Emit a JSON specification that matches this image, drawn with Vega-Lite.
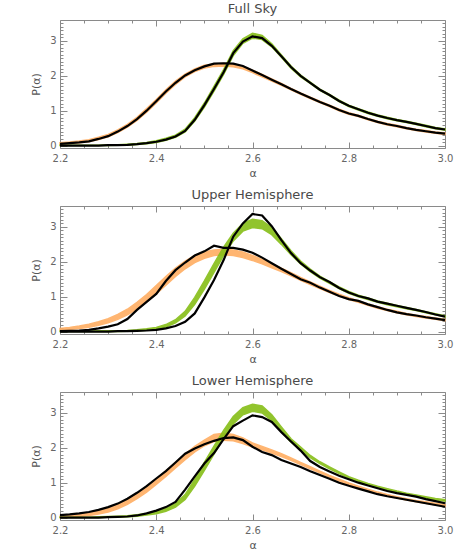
{
"$schema": "https://vega.github.io/schema/vega-lite/v6.json",
"background": "white",
"padding": {"left": 30, "top": 2, "right": 10, "bottom": 2},
"spacing": 9,
"config": {
  "view": {"stroke": "#8a8a8a", "strokeWidth": 1},
  "axis": {"domain": false, "grid": false, "labelFlush": false, "tickColor": "#8a8a8a", "tickWidth": 1, "labelColor": "#666", "labelFont": "DejaVu Sans", "labelFontSize": 10, "titleColor": "#555", "titleFont": "DejaVu Sans", "titleFontSize": 11, "titleFontWeight": "normal"},
  "title": {"font": "DejaVu Sans", "fontSize": 13, "fontWeight": "normal", "color": "#4a4a4a", "offset": 0, "frame": "group", "anchor": "middle"}
},
"datasets": {
"full": [
{"x":2.20,"ob":0.05,"olo":0.04,"ohi":0.08,"gb":0.00,"glo":0.00,"ghi":0.01},
{"x":2.22,"ob":0.07,"olo":0.06,"ohi":0.10,"gb":0.00,"glo":0.00,"ghi":0.01},
{"x":2.24,"ob":0.09,"olo":0.08,"ohi":0.13,"gb":0.00,"glo":0.00,"ghi":0.01},
{"x":2.26,"ob":0.12,"olo":0.11,"ohi":0.17,"gb":0.00,"glo":0.00,"ghi":0.01},
{"x":2.28,"ob":0.19,"olo":0.17,"ohi":0.24,"gb":0.00,"glo":0.00,"ghi":0.01},
{"x":2.30,"ob":0.27,"olo":0.25,"ohi":0.32,"gb":0.01,"glo":0.00,"ghi":0.02},
{"x":2.32,"ob":0.40,"olo":0.37,"ohi":0.45,"gb":0.01,"glo":0.01,"ghi":0.02},
{"x":2.34,"ob":0.56,"olo":0.53,"ohi":0.61,"gb":0.02,"glo":0.01,"ghi":0.04},
{"x":2.36,"ob":0.76,"olo":0.72,"ohi":0.81,"gb":0.04,"glo":0.03,"ghi":0.06},
{"x":2.38,"ob":1.00,"olo":0.96,"ohi":1.06,"gb":0.07,"glo":0.05,"ghi":0.09},
{"x":2.40,"ob":1.27,"olo":1.22,"ohi":1.32,"gb":0.11,"glo":0.09,"ghi":0.14},
{"x":2.42,"ob":1.55,"olo":1.50,"ohi":1.60,"gb":0.17,"glo":0.15,"ghi":0.21},
{"x":2.44,"ob":1.80,"olo":1.75,"ohi":1.85,"gb":0.26,"glo":0.24,"ghi":0.30},
{"x":2.46,"ob":2.01,"olo":1.97,"ohi":2.05,"gb":0.42,"glo":0.39,"ghi":0.47},
{"x":2.48,"ob":2.16,"olo":2.12,"ohi":2.20,"gb":0.74,"glo":0.70,"ghi":0.80},
{"x":2.50,"ob":2.27,"olo":2.22,"ohi":2.30,"gb":1.16,"glo":1.10,"ghi":1.22},
{"x":2.52,"ob":2.35,"olo":2.27,"ohi":2.34,"gb":1.62,"glo":1.56,"ghi":1.70},
{"x":2.54,"ob":2.36,"olo":2.28,"ohi":2.35,"gb":2.10,"glo":2.04,"ghi":2.18},
{"x":2.56,"ob":2.35,"olo":2.26,"ohi":2.33,"gb":2.65,"glo":2.58,"ghi":2.72},
{"x":2.58,"ob":2.28,"olo":2.20,"ohi":2.27,"gb":2.98,"glo":2.93,"ghi":3.06},
{"x":2.60,"ob":2.15,"olo":2.09,"ohi":2.16,"gb":3.13,"glo":3.08,"ghi":3.22},
{"x":2.62,"ob":2.02,"olo":1.97,"ohi":2.04,"gb":3.08,"glo":3.04,"ghi":3.16},
{"x":2.64,"ob":1.89,"olo":1.85,"ohi":1.91,"gb":2.86,"glo":2.83,"ghi":2.92},
{"x":2.66,"ob":1.76,"olo":1.73,"ohi":1.78,"gb":2.56,"glo":2.53,"ghi":2.60},
{"x":2.68,"ob":1.62,"olo":1.60,"ohi":1.64,"gb":2.25,"glo":2.22,"ghi":2.28},
{"x":2.70,"ob":1.49,"olo":1.47,"ohi":1.51,"gb":2.00,"glo":1.97,"ghi":2.02},
{"x":2.72,"ob":1.37,"olo":1.35,"ohi":1.39,"gb":1.80,"glo":1.78,"ghi":1.82},
{"x":2.74,"ob":1.25,"olo":1.23,"ohi":1.27,"gb":1.60,"glo":1.58,"ghi":1.62},
{"x":2.76,"ob":1.14,"olo":1.12,"ohi":1.16,"gb":1.45,"glo":1.43,"ghi":1.47},
{"x":2.78,"ob":1.02,"olo":1.00,"ohi":1.04,"gb":1.28,"glo":1.26,"ghi":1.30},
{"x":2.80,"ob":0.92,"olo":0.90,"ohi":0.94,"gb":1.14,"glo":1.12,"ghi":1.16},
{"x":2.82,"ob":0.85,"olo":0.83,"ohi":0.87,"gb":1.04,"glo":1.02,"ghi":1.06},
{"x":2.84,"ob":0.76,"olo":0.74,"ohi":0.78,"gb":0.94,"glo":0.92,"ghi":0.96},
{"x":2.86,"ob":0.68,"olo":0.66,"ohi":0.70,"gb":0.86,"glo":0.84,"ghi":0.88},
{"x":2.88,"ob":0.61,"olo":0.59,"ohi":0.63,"gb":0.79,"glo":0.77,"ghi":0.81},
{"x":2.90,"ob":0.56,"olo":0.54,"ohi":0.58,"gb":0.73,"glo":0.71,"ghi":0.75},
{"x":2.92,"ob":0.50,"olo":0.48,"ohi":0.52,"gb":0.68,"glo":0.66,"ghi":0.70},
{"x":2.94,"ob":0.45,"olo":0.43,"ohi":0.47,"gb":0.62,"glo":0.60,"ghi":0.64},
{"x":2.96,"ob":0.41,"olo":0.39,"ohi":0.43,"gb":0.56,"glo":0.54,"ghi":0.58},
{"x":2.98,"ob":0.37,"olo":0.35,"ohi":0.39,"gb":0.50,"glo":0.48,"ghi":0.52},
{"x":3.00,"ob":0.34,"olo":0.32,"ohi":0.36,"gb":0.46,"glo":0.44,"ghi":0.48}
],
"upper": [
{"x":2.20,"ob":0.01,"olo":0.04,"ohi":0.09,"gb":0.00,"glo":0.00,"ghi":0.01},
{"x":2.22,"ob":0.02,"olo":0.06,"ohi":0.12,"gb":0.00,"glo":0.00,"ghi":0.01},
{"x":2.24,"ob":0.03,"olo":0.09,"ohi":0.16,"gb":0.00,"glo":0.00,"ghi":0.01},
{"x":2.26,"ob":0.05,"olo":0.12,"ohi":0.21,"gb":0.00,"glo":0.00,"ghi":0.01},
{"x":2.28,"ob":0.09,"olo":0.18,"ohi":0.28,"gb":0.00,"glo":0.00,"ghi":0.02},
{"x":2.30,"ob":0.14,"olo":0.25,"ohi":0.37,"gb":0.00,"glo":0.00,"ghi":0.02},
{"x":2.32,"ob":0.21,"olo":0.35,"ohi":0.49,"gb":0.01,"glo":0.00,"ghi":0.02},
{"x":2.34,"ob":0.36,"olo":0.48,"ohi":0.64,"gb":0.01,"glo":0.01,"ghi":0.03},
{"x":2.36,"ob":0.62,"olo":0.64,"ohi":0.84,"gb":0.02,"glo":0.02,"ghi":0.05},
{"x":2.38,"ob":0.85,"olo":0.85,"ohi":1.06,"gb":0.03,"glo":0.04,"ghi":0.08},
{"x":2.40,"ob":1.08,"olo":1.08,"ohi":1.32,"gb":0.05,"glo":0.07,"ghi":0.12},
{"x":2.42,"ob":1.45,"olo":1.33,"ohi":1.58,"gb":0.09,"glo":0.13,"ghi":0.20},
{"x":2.44,"ob":1.76,"olo":1.58,"ohi":1.82,"gb":0.16,"glo":0.25,"ghi":0.34},
{"x":2.46,"ob":1.98,"olo":1.80,"ohi":2.02,"gb":0.28,"glo":0.45,"ghi":0.58},
{"x":2.48,"ob":2.18,"olo":1.98,"ohi":2.18,"gb":0.52,"glo":0.78,"ghi":0.98},
{"x":2.50,"ob":2.30,"olo":2.10,"ohi":2.28,"gb":0.98,"glo":1.22,"ghi":1.45},
{"x":2.52,"ob":2.46,"olo":2.18,"ohi":2.34,"gb":1.48,"glo":1.70,"ghi":1.95},
{"x":2.54,"ob":2.40,"olo":2.20,"ohi":2.36,"gb":2.05,"glo":2.18,"ghi":2.42},
{"x":2.56,"ob":2.40,"olo":2.18,"ohi":2.34,"gb":2.72,"glo":2.60,"ghi":2.82},
{"x":2.58,"ob":2.35,"olo":2.12,"ohi":2.28,"gb":3.10,"glo":2.88,"ghi":3.10},
{"x":2.60,"ob":2.26,"olo":2.04,"ohi":2.18,"gb":3.37,"glo":2.98,"ghi":3.22},
{"x":2.62,"ob":2.12,"olo":1.94,"ohi":2.07,"gb":3.33,"glo":2.95,"ghi":3.18},
{"x":2.64,"ob":1.96,"olo":1.83,"ohi":1.95,"gb":3.02,"glo":2.78,"ghi":2.98},
{"x":2.66,"ob":1.80,"olo":1.72,"ohi":1.82,"gb":2.62,"glo":2.50,"ghi":2.66},
{"x":2.68,"ob":1.65,"olo":1.60,"ohi":1.69,"gb":2.25,"glo":2.20,"ghi":2.32},
{"x":2.70,"ob":1.50,"olo":1.47,"ohi":1.55,"gb":1.96,"glo":1.94,"ghi":2.02},
{"x":2.72,"ob":1.40,"olo":1.35,"ohi":1.42,"gb":1.75,"glo":1.72,"ghi":1.79},
{"x":2.74,"ob":1.26,"olo":1.23,"ohi":1.30,"gb":1.56,"glo":1.53,"ghi":1.59},
{"x":2.76,"ob":1.14,"olo":1.12,"ohi":1.18,"gb":1.42,"glo":1.38,"ghi":1.43},
{"x":2.78,"ob":1.02,"olo":1.02,"ohi":1.07,"gb":1.25,"glo":1.23,"ghi":1.28},
{"x":2.80,"ob":0.93,"olo":0.92,"ohi":0.97,"gb":1.12,"glo":1.10,"ghi":1.15},
{"x":2.82,"ob":0.88,"olo":0.84,"ohi":0.88,"gb":1.02,"glo":1.00,"ghi":1.04},
{"x":2.84,"ob":0.78,"olo":0.75,"ohi":0.79,"gb":0.95,"glo":0.92,"ghi":0.96},
{"x":2.86,"ob":0.70,"olo":0.67,"ohi":0.71,"gb":0.86,"glo":0.84,"ghi":0.88},
{"x":2.88,"ob":0.62,"olo":0.60,"ohi":0.64,"gb":0.80,"glo":0.77,"ghi":0.81},
{"x":2.90,"ob":0.55,"olo":0.54,"ohi":0.58,"gb":0.74,"glo":0.71,"ghi":0.75},
{"x":2.92,"ob":0.50,"olo":0.48,"ohi":0.52,"gb":0.68,"glo":0.65,"ghi":0.69},
{"x":2.94,"ob":0.46,"olo":0.43,"ohi":0.47,"gb":0.62,"glo":0.60,"ghi":0.63},
{"x":2.96,"ob":0.41,"olo":0.39,"ohi":0.43,"gb":0.56,"glo":0.54,"ghi":0.57},
{"x":2.98,"ob":0.37,"olo":0.35,"ohi":0.39,"gb":0.49,"glo":0.48,"ghi":0.51},
{"x":3.00,"ob":0.33,"olo":0.31,"ohi":0.35,"gb":0.43,"glo":0.42,"ghi":0.45}
],
"lower": [
{"x":2.20,"ob":0.07,"olo":0.00,"ohi":0.04,"gb":0.00,"glo":0.00,"ghi":0.01},
{"x":2.22,"ob":0.09,"olo":0.01,"ohi":0.06,"gb":0.00,"glo":0.00,"ghi":0.01},
{"x":2.24,"ob":0.12,"olo":0.03,"ohi":0.09,"gb":0.00,"glo":0.00,"ghi":0.01},
{"x":2.26,"ob":0.16,"olo":0.06,"ohi":0.13,"gb":0.00,"glo":0.00,"ghi":0.01},
{"x":2.28,"ob":0.22,"olo":0.10,"ohi":0.19,"gb":0.00,"glo":0.00,"ghi":0.02},
{"x":2.30,"ob":0.30,"olo":0.16,"ohi":0.27,"gb":0.01,"glo":0.01,"ghi":0.03},
{"x":2.32,"ob":0.40,"olo":0.25,"ohi":0.37,"gb":0.02,"glo":0.01,"ghi":0.04},
{"x":2.34,"ob":0.54,"olo":0.38,"ohi":0.50,"gb":0.03,"glo":0.02,"ghi":0.05},
{"x":2.36,"ob":0.71,"olo":0.54,"ohi":0.68,"gb":0.06,"glo":0.04,"ghi":0.08},
{"x":2.38,"ob":0.90,"olo":0.73,"ohi":0.88,"gb":0.12,"glo":0.07,"ghi":0.12},
{"x":2.40,"ob":1.12,"olo":0.95,"ohi":1.10,"gb":0.20,"glo":0.11,"ghi":0.17},
{"x":2.42,"ob":1.33,"olo":1.18,"ohi":1.34,"gb":0.30,"glo":0.18,"ghi":0.26},
{"x":2.44,"ob":1.58,"olo":1.42,"ohi":1.58,"gb":0.45,"glo":0.30,"ghi":0.40},
{"x":2.46,"ob":1.83,"olo":1.66,"ohi":1.82,"gb":0.80,"glo":0.52,"ghi":0.66},
{"x":2.48,"ob":1.98,"olo":1.88,"ohi":2.04,"gb":1.18,"glo":0.90,"ghi":1.10},
{"x":2.50,"ob":2.10,"olo":2.06,"ohi":2.22,"gb":1.55,"glo":1.35,"ghi":1.58},
{"x":2.52,"ob":2.20,"olo":2.18,"ohi":2.38,"gb":1.85,"glo":1.82,"ghi":2.05},
{"x":2.54,"ob":2.28,"olo":2.22,"ohi":2.42,"gb":2.25,"glo":2.28,"ghi":2.50},
{"x":2.56,"ob":2.30,"olo":2.20,"ohi":2.38,"gb":2.62,"glo":2.68,"ghi":2.90},
{"x":2.58,"ob":2.22,"olo":2.12,"ohi":2.28,"gb":2.78,"glo":2.95,"ghi":3.15},
{"x":2.60,"ob":2.03,"olo":2.02,"ohi":2.14,"gb":2.93,"glo":3.05,"ghi":3.25},
{"x":2.62,"ob":1.88,"olo":1.94,"ohi":2.04,"gb":2.88,"glo":3.00,"ghi":3.20},
{"x":2.64,"ob":1.79,"olo":1.85,"ohi":1.94,"gb":2.74,"glo":2.78,"ghi":2.95},
{"x":2.66,"ob":1.65,"olo":1.75,"ohi":1.83,"gb":2.45,"glo":2.46,"ghi":2.60},
{"x":2.68,"ob":1.55,"olo":1.64,"ohi":1.71,"gb":2.18,"glo":2.16,"ghi":2.26},
{"x":2.70,"ob":1.45,"olo":1.52,"ohi":1.58,"gb":1.92,"glo":1.94,"ghi":2.02},
{"x":2.72,"ob":1.33,"olo":1.40,"ohi":1.46,"gb":1.62,"glo":1.72,"ghi":1.78},
{"x":2.74,"ob":1.22,"olo":1.28,"ohi":1.33,"gb":1.45,"glo":1.55,"ghi":1.60},
{"x":2.76,"ob":1.11,"olo":1.16,"ohi":1.21,"gb":1.32,"glo":1.40,"ghi":1.45},
{"x":2.78,"ob":1.00,"olo":1.05,"ohi":1.10,"gb":1.20,"glo":1.26,"ghi":1.31},
{"x":2.80,"ob":0.91,"olo":0.95,"ohi":0.99,"gb":1.10,"glo":1.13,"ghi":1.17},
{"x":2.82,"ob":0.83,"olo":0.86,"ohi":0.90,"gb":1.00,"glo":1.03,"ghi":1.07},
{"x":2.84,"ob":0.75,"olo":0.77,"ohi":0.81,"gb":0.92,"glo":0.94,"ghi":0.98},
{"x":2.86,"ob":0.67,"olo":0.69,"ohi":0.73,"gb":0.84,"glo":0.86,"ghi":0.90},
{"x":2.88,"ob":0.61,"olo":0.62,"ohi":0.66,"gb":0.76,"glo":0.79,"ghi":0.83},
{"x":2.90,"ob":0.56,"olo":0.56,"ohi":0.60,"gb":0.70,"glo":0.72,"ghi":0.76},
{"x":2.92,"ob":0.51,"olo":0.50,"ohi":0.54,"gb":0.65,"glo":0.66,"ghi":0.70},
{"x":2.94,"ob":0.46,"olo":0.45,"ohi":0.49,"gb":0.60,"glo":0.61,"ghi":0.65},
{"x":2.96,"ob":0.41,"olo":0.41,"ohi":0.45,"gb":0.53,"glo":0.56,"ghi":0.60},
{"x":2.98,"ob":0.36,"olo":0.37,"ohi":0.41,"gb":0.47,"glo":0.51,"ghi":0.55},
{"x":3.00,"ob":0.31,"olo":0.33,"ohi":0.37,"gb":0.41,"glo":0.47,"ghi":0.51}
]
},
"vconcat": [
{
 "title": "Full Sky", "width": 385, "height": 128, "data": {"name": "full"},
 "resolve": {"axis": {"x": "independent", "y": "independent"}},
 "layer": [
  {"mark": {"type": "area", "color": "#FFAE62", "stroke": "#FFAE62", "strokeWidth": 1.5, "opacity": 0.9},
   "encoding": {
    "x": {"field": "x", "type": "quantitative", "scale": {"domain": [2.2, 3.0], "nice": false, "zero": false}, "axis": {"orient": "bottom", "values": [2.2, 2.4, 2.6, 2.8, 3.0], "format": ".1f", "tickSize": -6, "labelPadding": 11, "title": "α", "titlePadding": 4}},
    "y": {"field": "olo", "type": "quantitative", "scale": {"domain": [-0.07, 3.6], "nice": false, "zero": false}, "axis": {"orient": "left", "values": [0, 1, 2, 3], "format": "d", "tickSize": -7, "labelPadding": 11, "title": "P(α)", "titlePadding": 8}},
    "y2": {"field": "ohi"}}},
  {"mark": {"type": "area", "color": "#86BE17", "stroke": "#86BE17", "strokeWidth": 1.5, "opacity": 0.9},
   "encoding": {
    "x": {"field": "x", "type": "quantitative", "axis": {"orient": "bottom", "values": [2.25, 2.3, 2.35, 2.45, 2.5, 2.55, 2.65, 2.7, 2.75, 2.85, 2.9, 2.95], "labels": false, "tickSize": -3, "title": null}},
    "y": {"field": "glo", "type": "quantitative", "axis": {"orient": "left", "values": [0.1,0.2,0.3,0.4,0.5,0.6,0.7,0.8,0.9,1.1,1.2,1.3,1.4,1.5,1.6,1.7,1.8,1.9,2.1,2.2,2.3,2.4,2.5,2.6,2.7,2.8,2.9,3.1,3.2,3.3,3.4,3.5], "labels": false, "tickSize": -3, "title": null}},
    "y2": {"field": "ghi"}}},
  {"mark": {"type": "line", "color": "black", "strokeWidth": 2.2},
   "encoding": {
    "x": {"field": "x", "type": "quantitative", "axis": {"orient": "top", "values": [2.2, 2.4, 2.6, 2.8, 3.0], "labels": false, "tickSize": -6, "title": null}},
    "y": {"field": "ob", "type": "quantitative", "axis": {"orient": "right", "values": [0, 1, 2, 3], "labels": false, "tickSize": -7, "title": null}}}},
  {"mark": {"type": "line", "color": "black", "strokeWidth": 2.2},
   "encoding": {
    "x": {"field": "x", "type": "quantitative", "axis": {"orient": "top", "values": [2.25, 2.3, 2.35, 2.45, 2.5, 2.55, 2.65, 2.7, 2.75, 2.85, 2.9, 2.95], "labels": false, "tickSize": -3, "title": null}},
    "y": {"field": "gb", "type": "quantitative", "axis": {"orient": "right", "values": [0.1,0.2,0.3,0.4,0.5,0.6,0.7,0.8,0.9,1.1,1.2,1.3,1.4,1.5,1.6,1.7,1.8,1.9,2.1,2.2,2.3,2.4,2.5,2.6,2.7,2.8,2.9,3.1,3.2,3.3,3.4,3.5], "labels": false, "tickSize": -3, "title": null}}}}
 ]
},
{
 "title": "Upper Hemisphere", "width": 385, "height": 128, "data": {"name": "upper"},
 "resolve": {"axis": {"x": "independent", "y": "independent"}},
 "layer": [
  {"mark": {"type": "area", "color": "#FFAE62", "stroke": "#FFAE62", "strokeWidth": 1.5, "opacity": 0.9},
   "encoding": {
    "x": {"field": "x", "type": "quantitative", "scale": {"domain": [2.2, 3.0], "nice": false, "zero": false}, "axis": {"orient": "bottom", "values": [2.2, 2.4, 2.6, 2.8, 3.0], "format": ".1f", "tickSize": -6, "labelPadding": 11, "title": "α", "titlePadding": 4}},
    "y": {"field": "olo", "type": "quantitative", "scale": {"domain": [-0.07, 3.6], "nice": false, "zero": false}, "axis": {"orient": "left", "values": [0, 1, 2, 3], "format": "d", "tickSize": -7, "labelPadding": 11, "title": "P(α)", "titlePadding": 8}},
    "y2": {"field": "ohi"}}},
  {"mark": {"type": "area", "color": "#86BE17", "stroke": "#86BE17", "strokeWidth": 1.5, "opacity": 0.9},
   "encoding": {
    "x": {"field": "x", "type": "quantitative", "axis": {"orient": "bottom", "values": [2.25, 2.3, 2.35, 2.45, 2.5, 2.55, 2.65, 2.7, 2.75, 2.85, 2.9, 2.95], "labels": false, "tickSize": -3, "title": null}},
    "y": {"field": "glo", "type": "quantitative", "axis": {"orient": "left", "values": [0.1,0.2,0.3,0.4,0.5,0.6,0.7,0.8,0.9,1.1,1.2,1.3,1.4,1.5,1.6,1.7,1.8,1.9,2.1,2.2,2.3,2.4,2.5,2.6,2.7,2.8,2.9,3.1,3.2,3.3,3.4,3.5], "labels": false, "tickSize": -3, "title": null}},
    "y2": {"field": "ghi"}}},
  {"mark": {"type": "line", "color": "black", "strokeWidth": 2.2},
   "encoding": {
    "x": {"field": "x", "type": "quantitative", "axis": {"orient": "top", "values": [2.2, 2.4, 2.6, 2.8, 3.0], "labels": false, "tickSize": -6, "title": null}},
    "y": {"field": "ob", "type": "quantitative", "axis": {"orient": "right", "values": [0, 1, 2, 3], "labels": false, "tickSize": -7, "title": null}}}},
  {"mark": {"type": "line", "color": "black", "strokeWidth": 2.2},
   "encoding": {
    "x": {"field": "x", "type": "quantitative", "axis": {"orient": "top", "values": [2.25, 2.3, 2.35, 2.45, 2.5, 2.55, 2.65, 2.7, 2.75, 2.85, 2.9, 2.95], "labels": false, "tickSize": -3, "title": null}},
    "y": {"field": "gb", "type": "quantitative", "axis": {"orient": "right", "values": [0.1,0.2,0.3,0.4,0.5,0.6,0.7,0.8,0.9,1.1,1.2,1.3,1.4,1.5,1.6,1.7,1.8,1.9,2.1,2.2,2.3,2.4,2.5,2.6,2.7,2.8,2.9,3.1,3.2,3.3,3.4,3.5], "labels": false, "tickSize": -3, "title": null}}}}
 ]
},
{
 "title": "Lower Hemisphere", "width": 385, "height": 128, "data": {"name": "lower"},
 "resolve": {"axis": {"x": "independent", "y": "independent"}},
 "layer": [
  {"mark": {"type": "area", "color": "#FFAE62", "stroke": "#FFAE62", "strokeWidth": 1.5, "opacity": 0.9},
   "encoding": {
    "x": {"field": "x", "type": "quantitative", "scale": {"domain": [2.2, 3.0], "nice": false, "zero": false}, "axis": {"orient": "bottom", "values": [2.2, 2.4, 2.6, 2.8, 3.0], "format": ".1f", "tickSize": -6, "labelPadding": 11, "title": "α", "titlePadding": 4}},
    "y": {"field": "olo", "type": "quantitative", "scale": {"domain": [-0.07, 3.6], "nice": false, "zero": false}, "axis": {"orient": "left", "values": [0, 1, 2, 3], "format": "d", "tickSize": -7, "labelPadding": 11, "title": "P(α)", "titlePadding": 8}},
    "y2": {"field": "ohi"}}},
  {"mark": {"type": "area", "color": "#86BE17", "stroke": "#86BE17", "strokeWidth": 1.5, "opacity": 0.9},
   "encoding": {
    "x": {"field": "x", "type": "quantitative", "axis": {"orient": "bottom", "values": [2.25, 2.3, 2.35, 2.45, 2.5, 2.55, 2.65, 2.7, 2.75, 2.85, 2.9, 2.95], "labels": false, "tickSize": -3, "title": null}},
    "y": {"field": "glo", "type": "quantitative", "axis": {"orient": "left", "values": [0.1,0.2,0.3,0.4,0.5,0.6,0.7,0.8,0.9,1.1,1.2,1.3,1.4,1.5,1.6,1.7,1.8,1.9,2.1,2.2,2.3,2.4,2.5,2.6,2.7,2.8,2.9,3.1,3.2,3.3,3.4,3.5], "labels": false, "tickSize": -3, "title": null}},
    "y2": {"field": "ghi"}}},
  {"mark": {"type": "line", "color": "black", "strokeWidth": 2.2},
   "encoding": {
    "x": {"field": "x", "type": "quantitative", "axis": {"orient": "top", "values": [2.2, 2.4, 2.6, 2.8, 3.0], "labels": false, "tickSize": -6, "title": null}},
    "y": {"field": "ob", "type": "quantitative", "axis": {"orient": "right", "values": [0, 1, 2, 3], "labels": false, "tickSize": -7, "title": null}}}},
  {"mark": {"type": "line", "color": "black", "strokeWidth": 2.2},
   "encoding": {
    "x": {"field": "x", "type": "quantitative", "axis": {"orient": "top", "values": [2.25, 2.3, 2.35, 2.45, 2.5, 2.55, 2.65, 2.7, 2.75, 2.85, 2.9, 2.95], "labels": false, "tickSize": -3, "title": null}},
    "y": {"field": "gb", "type": "quantitative", "axis": {"orient": "right", "values": [0.1,0.2,0.3,0.4,0.5,0.6,0.7,0.8,0.9,1.1,1.2,1.3,1.4,1.5,1.6,1.7,1.8,1.9,2.1,2.2,2.3,2.4,2.5,2.6,2.7,2.8,2.9,3.1,3.2,3.3,3.4,3.5], "labels": false, "tickSize": -3, "title": null}}}}
 ]
}
]
}
